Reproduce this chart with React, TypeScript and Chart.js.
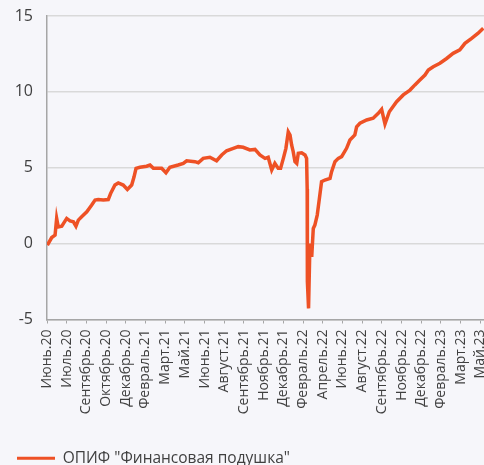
import { useEffect, useRef } from "react";
import { Chart, registerables } from "chart.js";

Chart.register(...registerables);

// Tick labels, one per label interval on the x axis
const tickLabels = [
  "Июнь.20", "Июль.20", "Сентябрь.20", "Октябрь.20", "Декабрь.20", "Февраль.21",
  "Март.21", "Май.21", "Июнь.21", "Август.21", "Сентябрь.21", "Ноябрь.21",
  "Декабрь.21", "Февраль.22", "Апрель.22", "Июнь.22", "Август.22", "Сентябрь.22",
  "Ноябрь.22", "Декабрь.22", "Февраль.23", "Март.23", "Май.23",
];

// Position of each reading, in label-interval units from the first label
const positions = [
  0.02, 0.24, 0.41, 0.49, 0.57, 0.75, 1.0, 1.17, 1.34, 1.47, 1.59, 1.76,
  2.02, 2.27, 2.44, 2.6, 2.86, 3.11, 3.23, 3.45, 3.62, 3.87, 4.08, 4.3,
  4.42, 4.52, 4.72, 5.06, 5.23, 5.4, 5.82, 6.04, 6.24, 6.66, 6.92, 7.09,
  7.51, 7.68, 7.93, 8.27, 8.61, 8.87, 9.12, 9.46, 9.71, 9.96, 10.3, 10.56,
  10.81, 11.07, 11.23, 11.41, 11.57, 11.74, 11.86, 12.0, 12.13, 12.25, 12.34, 12.42,
  12.5, 12.59, 12.68, 12.76, 12.93, 13.1, 13.18, 13.21, 13.22, 13.28, 13.35, 13.44,
  13.52, 13.6, 13.72, 13.82, 13.94, 14.11, 14.37, 14.45, 14.62, 14.79, 14.96, 15.21,
  15.38, 15.63, 15.72, 15.89, 16.23, 16.56, 16.82, 16.99, 17.16, 17.38, 17.75, 18.09,
  18.43, 18.68, 18.93, 19.19, 19.36, 19.61, 19.95, 20.29, 20.62, 20.96, 21.22, 21.56,
  21.89, 22.15,
];

// Fund return, %
const returns = [
  -0.1, 0.4, 0.56, 1.66, 1.1, 1.15, 1.66, 1.5, 1.44, 1.15, 1.55, 1.77,
  2.1, 2.54, 2.87, 2.9, 2.87, 2.9, 3.3, 3.86, 4.0, 3.86, 3.57, 3.86,
  4.4, 4.96, 5.03, 5.1, 5.18, 4.96, 4.96, 4.67, 5.03, 5.18, 5.29, 5.46,
  5.4, 5.33, 5.62, 5.69, 5.46, 5.84, 6.12, 6.28, 6.39, 6.35, 6.17, 6.21,
  5.84, 5.62, 5.69, 4.85, 5.29, 4.96, 4.96, 5.62, 6.28, 7.37, 7.16, 6.5,
  6.06, 5.4, 5.29, 5.95, 5.99, 5.84, 5.62, 3.6, -2.5, -4.27, 0.01, -0.87,
  1.0, 1.22, 1.88, 2.87, 4.08, 4.19, 4.3, 4.74, 5.4, 5.62, 5.73, 6.28,
  6.83, 7.16, 7.7, 7.93, 8.15, 8.26, 8.59, 8.85, 7.88, 8.69, 9.35, 9.8,
  10.12, 10.46, 10.78, 11.11, 11.44, 11.66, 11.89, 12.2, 12.54, 12.77, 13.2, 13.53,
  13.87, 14.2,
];

const seriesName = 'ОПИФ "Финансовая подушка"';
const yTicks = [-5, 0, 5, 10, 15];

export default function App() {
  const ref = useRef<HTMLCanvasElement | null>(null);

  useEffect(() => {
    document.body.style.margin = "0";
    document.body.style.background = "#f6f6fa";
    if (!ref.current) return;
    const font = "'Open Sans', sans-serif";
    const chart = new Chart(ref.current, {
      type: "line",
      data: {
        datasets: [
          {
            label: seriesName,
            data: positions.map((x, i) => ({ x, y: returns[i] })),
            borderColor: "#ee5125",
            backgroundColor: "#ee5125",
            borderWidth: 3.5,
            pointRadius: 0,
            tension: 0,
          },
        ],
      },
      options: {
        animation: false,
        responsive: false,
        maintainAspectRatio: false,
        layout: { padding: { left: 0, right: 0, top: 16, bottom: 0 } },
        plugins: {
          tooltip: { enabled: false },
          legend: {
            display: true,
            position: "bottom",
            align: "start",
            labels: {
              boxWidth: 38,
              boxHeight: 3,
              padding: 17,
              color: "#404040",
              font: { family: font, size: 15.5 },
              generateLabels: (c: any) =>
                Chart.defaults.plugins.legend.labels
                  .generateLabels(c)
                  .map((l: any) => ({ ...l, lineWidth: 0 })),
            },
          },
        },
        scales: {
          x: {
            type: "linear",
            min: 0,
            max: 23,
            afterFit: (s: any) => {
              s.height = 114;
              s.paddingLeft = 0;
              s.paddingRight = 0;
            },
            afterBuildTicks: (s: any) => {
              s.ticks = tickLabels.map((_, i) => ({ value: i }));
            },
            grid: {
              display: true,
              drawOnChartArea: false,
              drawTicks: true,
              tickLength: 4,
              color: "#a6a6a6",
              lineWidth: 1,
            },
            border: { display: true, color: "#a6a6a6", width: 1.5 },
            ticks: {
              autoSkip: false,
              minRotation: 90,
              maxRotation: 90,
              padding: 6,
              color: "#404040",
              font: { family: font, size: 14 },
              callback: (v: any) => tickLabels[Math.round(Number(v))] ?? "",
            },
          },
          y: {
            min: -5,
            max: 15,
            afterFit: (s: any) => {
              s.width = 47;
              s.paddingTop = 0;
              s.paddingBottom = 0;
            },
            afterBuildTicks: (s: any) => {
              s.ticks = yTicks.map((v) => ({ value: v }));
            },
            grid: {
              color: "#d9d9d9",
              lineWidth: 1.5,
              drawTicks: false,
            },
            border: { display: true, color: "#a6a6a6", width: 1.5 },
            ticks: {
              padding: 14,
              color: "#404040",
              font: { family: font, size: 16 },
            },
          },
        },
      },
    });
    return () => chart.destroy();
  }, []);

  return (
    <div
      style={{
        position: "fixed",
        left: 0,
        top: 0,
        width: 484,
        height: 465,
        overflow: "hidden",
        background: "#f6f6fa",
      }}
    >
      <canvas ref={ref} width={500} height={476} style={{ display: "block" }} />
    </div>
  );
}
